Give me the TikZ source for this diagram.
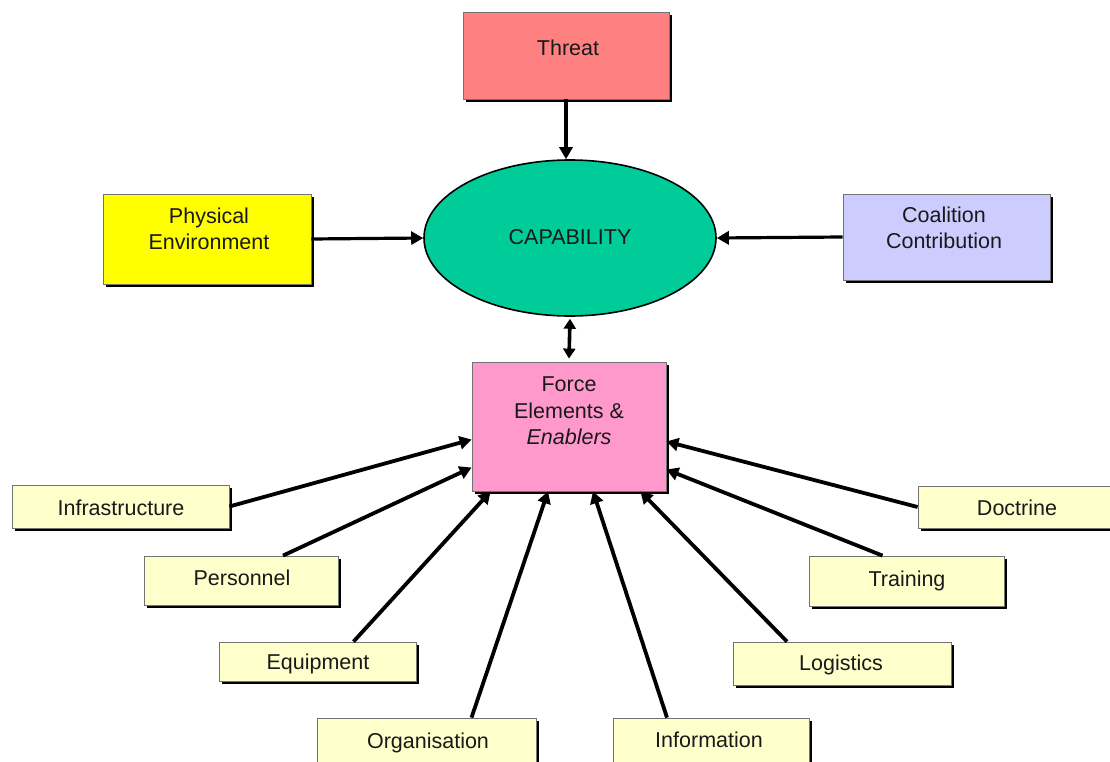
\documentclass[tikz,border=0pt]{standalone}
\usepackage{fontspec}
\setmainfont{Liberation Sans}
\usetikzlibrary{arrows.meta,shapes.geometric,shadows}
\definecolor{threatc}{RGB}{255,128,128}
\definecolor{physc}{RGB}{255,255,0}
\definecolor{coalc}{RGB}{204,204,255}
\definecolor{capc}{RGB}{0,204,153}
\definecolor{forcec}{RGB}{255,153,204}
\definecolor{enabc}{RGB}{255,255,204}
\begin{document}
\begin{tikzpicture}[x=1pt,y=-1pt,
  box/.style={draw=black!55, line width=0.8pt, inner sep=0pt,
    drop shadow={opacity=1, fill=black, shadow xshift=2.8pt, shadow yshift=-2.8pt}},
  enab/.style={box, fill=enabc},
  lbl/.style={align=center, inner sep=0pt, text=black!90,
    font=\fontsize{21.5}{26.5}\selectfont},
  arr/.style={line width=3.8pt, -{Triangle[length=12pt,width=13pt]}},
]
\clip (0,0) rectangle (1110,762);

% main boxes
\node[box, fill=threatc, minimum width=206pt, minimum height=87pt] (threat) at (566,55.5) {};
\node[box, fill=physc, minimum width=208pt, minimum height=90pt] (phys) at (207,239) {};
\node[box, fill=coalc, minimum width=207pt, minimum height=86pt] (coal) at (946.5,237) {};
\node[ellipse, draw=black, line width=1.6pt, fill=capc, inner sep=0pt,
      minimum width=292pt, minimum height=156pt] (cap) at (570,238) {};
\node[box, fill=forcec, minimum width=194pt, minimum height=129pt] (force) at (569,426.5) {};

% enabler boxes
\node[enab, minimum width=217pt, minimum height=43pt] (infra) at (120.5,506.5) {};
\node[enab, minimum width=194pt, minimum height=49pt] (pers) at (241,580.5) {};
\node[enab, minimum width=197pt, minimum height=39pt] (equip) at (317.5,661.5) {};
\node[enab, minimum width=219pt, minimum height=48pt] (org) at (426.5,742) {};
\node[enab, minimum width=196pt, minimum height=48pt] (info) at (711,742) {};
\node[enab, minimum width=218pt, minimum height=43pt] (logi) at (842,663.5) {};
\node[enab, minimum width=195pt, minimum height=50pt] (train) at (906.5,581) {};
\node[enab, minimum width=220pt, minimum height=42pt] (doct) at (1028,507) {};

% labels
\node[lbl] (threat-t) at (568,48) {Threat};
\node[lbl] (phys-t) at (209,229) {Physical\\Environment};
\node[lbl] (coal-t) at (944,228) {Coalition\\Contribution};
\node[lbl] (cap-t) at (570,237) {CAPABILITY};
\node[lbl] (force-t) at (569,411) {Force\\Elements \&\\\textit{Enablers}};
\node[lbl] (infra-t) at (121,508) {Infrastructure};
\node[lbl] (pers-t) at (242,578) {Personnel};
\node[lbl] (equip-t) at (318,664) {Equipment};
\node[lbl] (org-t) at (428,742.5) {Organisation};
\node[lbl] (info-t) at (709,740) {Information};
\node[lbl] (logi-t) at (841,664.5) {Logistics};
\node[lbl] (train-t) at (907,580.5) {Training};
\node[lbl] (doct-t) at (1017,508) {Doctrine};

% connectors to capability
\draw[arr, line width=4.2pt] (threat.south) -- (threat.south |- cap.north);
\draw[arr, line width=3.2pt] (phys.east) -- (cap.west);
\draw[arr, line width=3.2pt] (coal.west) -- (cap.east);
\draw[line width=3.6pt, {Triangle[length=10pt,width=12pt]}-{Triangle[length=10pt,width=12pt]}]
  ([yshift=-2pt]cap.south) -- ([yshift=3pt]force.north);

% connectors to force elements
\draw[arr] (infra.east) -- ([yshift=-13pt]force.west);
\draw[arr] ([xshift=42pt]pers.north) -- ([yshift=-41pt]force.west);
\draw[arr] ([xshift=36pt]equip.north) -- ([xshift=19pt]force.south west);
\draw[arr] ([xshift=45pt]org.north) -- ([xshift=-21pt]force.south);
\draw[arr] ([xshift=-44pt]info.north) -- ([xshift=24pt]force.south);
\draw[arr] ([xshift=-55pt]logi.north) -- ([xshift=-26pt]force.south east);
\draw[arr] ([xshift=-24pt]train.north) -- ([yshift=-43pt]force.east);
\draw[arr] (doct.west) -- ([yshift=-15pt]force.east);
\end{tikzpicture}
\end{document}
